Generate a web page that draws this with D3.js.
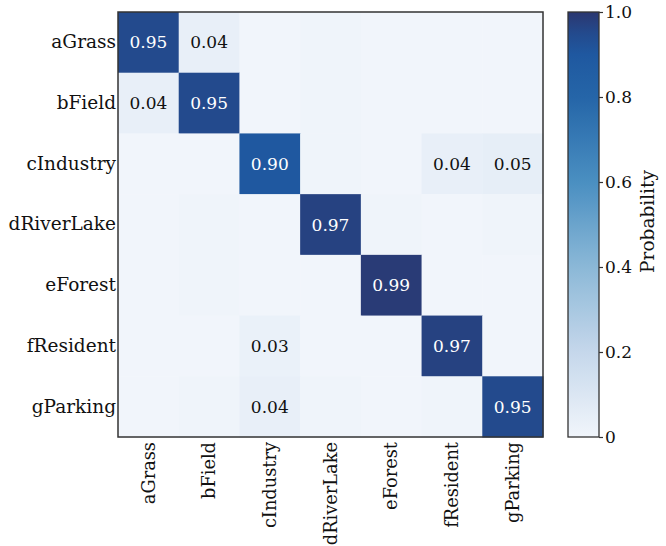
<!DOCTYPE html>
<html>
<head>
<meta charset="utf-8">
<script src="https://cdn.jsdelivr.net/npm/d3@7"></script>
<style>
  html, body { margin: 0; padding: 0; background: #fff; }
  svg { display: block; }
  text { font-family: "DejaVu Serif", "Liberation Serif", serif; }
</style>
</head>
<body>
<svg id="chart" width="666" height="546"></svg>
<script>
// Land-cover classes (rows: true class, columns: predicted class)
const classes = ["aGrass", "bField", "cIndustry", "dRiverLake", "eForest", "fResident", "gParking"];

// Row-normalised confusion matrix
const rowGrass    = [0.95, 0.04, 0.00, 0.01, 0.00, 0.00, 0.00];
const rowField    = [0.04, 0.95, 0.00, 0.01, 0.00, 0.00, 0.00];
const rowIndustry = [0.00, 0.00, 0.90, 0.01, 0.00, 0.04, 0.05];
const rowRiver    = [0.00, 0.01, 0.00, 0.97, 0.01, 0.00, 0.01];
const rowForest   = [0.00, 0.01, 0.00, 0.00, 0.99, 0.00, 0.00];
const rowResident = [0.00, 0.00, 0.03, 0.00, 0.00, 0.97, 0.00];
const rowParking  = [0.00, 0.01, 0.04, 0.01, 0.00, 0.01, 0.95];
const matrix = [rowGrass, rowField, rowIndustry, rowRiver, rowForest, rowResident, rowParking];

// Colour-bar ticks
const barTicks = [0, 0.2, 0.4, 0.6, 0.8, 1.0];
const barTickLabels = ["0", "0.2", "0.4", "0.6", "0.8", "1.0"];

// Cells below this value are shaded but not annotated
const labelMin = 0.025;

const svg = d3.select("#chart");
const plot = { left: 118, top: 12, size: 425 };
const bar = { left: 568, width: 31 };
const ink = "#111111";
const labelSize = 18.5;
const colLabelSize = 17.8;
const numberSize = 17;

const x = d3.scaleBand().domain(classes).range([plot.left, plot.left + plot.size]);
const y = d3.scaleBand().domain(classes).range([plot.top, plot.top + plot.size]);

// Blue sequential ramp
const color = d3.scaleLinear()
  .domain([0, 0.2, 0.4, 0.6, 0.8, 0.9, 0.95, 1.0])
  .range(["#f1f5fb", "#c5d7eb", "#8bb8d7", "#4a8fc1", "#2565a8", "#1f58a0", "#234a8d", "#2b3770"])
  .interpolate(d3.interpolateRgb)
  .clamp(true);

const cells = [];
matrix.forEach((row, i) => row.forEach((v, j) => cells.push({ r: classes[i], c: classes[j], v })));

svg.append("g").selectAll("rect")
  .data(cells)
  .join("rect")
  .attr("x", d => x(d.c))
  .attr("y", d => y(d.r))
  .attr("width", x.bandwidth() + 0.5)
  .attr("height", y.bandwidth() + 0.5)
  .attr("fill", d => color(d.v));

svg.append("g").selectAll("text")
  .data(cells.filter(d => d.v >= labelMin))
  .join("text")
  .attr("x", d => x(d.c) + x.bandwidth() / 2)
  .attr("y", d => y(d.r) + y.bandwidth() / 2)
  .attr("text-anchor", "middle")
  .attr("dominant-baseline", "central")
  .attr("font-size", numberSize)
  .attr("fill", d => d.v > 0.5 ? "#ffffff" : ink)
  .text(d => d.v.toFixed(2));

// Frame around the matrix
svg.append("rect")
  .attr("x", plot.left).attr("y", plot.top)
  .attr("width", plot.size).attr("height", plot.size)
  .attr("fill", "none").attr("stroke", "#333").attr("stroke-width", 1.5);

// Row labels
const yAxis = svg.append("g")
  .attr("transform", `translate(${plot.left},0)`)
  .call(d3.axisLeft(y).tickSize(0).tickPadding(2));
yAxis.select(".domain").remove();
yAxis.selectAll("text").attr("font-size", labelSize).attr("fill", ink)
  .style("font-family", '"DejaVu Serif", serif');

// Column labels, rotated
const xAxis = svg.append("g")
  .attr("transform", `translate(0,${plot.top + plot.size})`)
  .call(d3.axisBottom(x).tickSize(0).tickPadding(0));
xAxis.select(".domain").remove();
xAxis.selectAll("text")
  .attr("font-size", colLabelSize).attr("fill", ink)
  .style("font-family", '"DejaVu Serif", serif')
  .attr("text-anchor", "end")
  .attr("dy", "0.35em")
  .attr("transform", "translate(0,5) rotate(-90)");

// Colour bar
const cb = d3.scaleLinear().domain([0, 1]).range([plot.top + plot.size, plot.top]);
const defs = svg.append("defs");
const grad = defs.append("linearGradient")
  .attr("id", "ramp").attr("x1", 0).attr("y1", 1).attr("x2", 0).attr("y2", 0);
d3.range(0, 1.0001, 0.05).forEach(t => {
  grad.append("stop").attr("offset", t).attr("stop-color", color(t));
});
svg.append("rect")
  .attr("x", bar.left).attr("y", cb(1))
  .attr("width", bar.width).attr("height", cb(0) - cb(1))
  .attr("fill", "url(#ramp)")
  .attr("stroke", "#333").attr("stroke-width", 1.3);

const cbAxis = svg.append("g")
  .attr("transform", `translate(${bar.left + bar.width},0)`)
  .call(d3.axisRight(cb).tickValues(barTicks).tickFormat((d, i) => barTickLabels[i]).tickSize(4).tickPadding(2));
cbAxis.select(".domain").remove();
cbAxis.selectAll("line").attr("stroke", "#333").attr("stroke-width", 1.2);
cbAxis.selectAll("text").attr("font-size", numberSize).attr("fill", ink)
  .style("font-family", '"DejaVu Serif", serif');

svg.append("text")
  .attr("transform", `translate(647,${(cb(0) + cb(1)) / 2 - 3}) rotate(-90)`)
  .attr("text-anchor", "middle")
  .attr("dominant-baseline", "central")
  .attr("font-size", labelSize)
  .attr("fill", ink)
  .text("Probability");
</script>
</body>
</html>
